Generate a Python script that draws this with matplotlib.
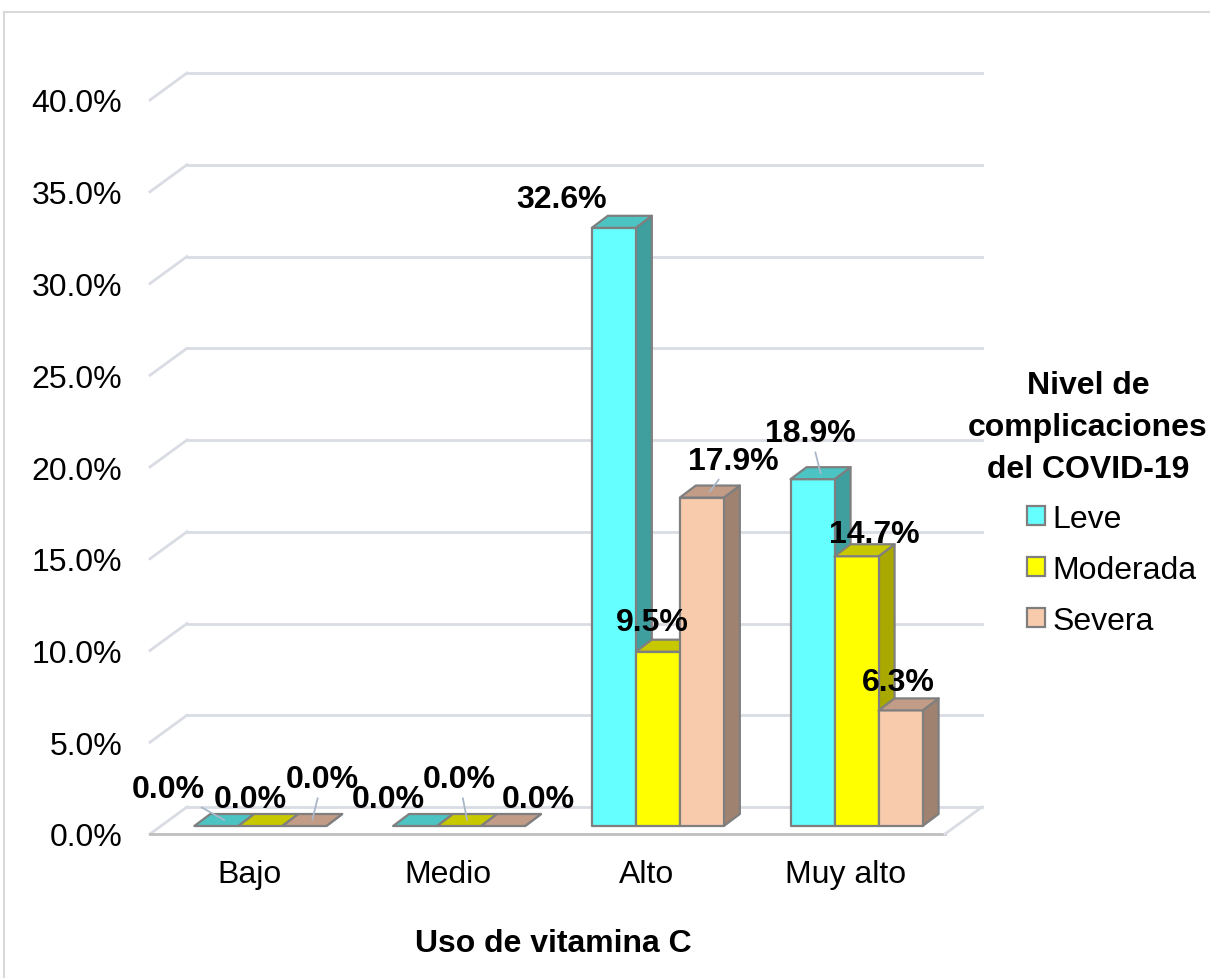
import matplotlib.pyplot as plt
from matplotlib.patches import Polygon, Patch
from matplotlib.lines import Line2D

plt.rcParams['font.family'] = ['Liberation Sans', 'DejaVu Sans']

categories = ["Bajo", "Medio", "Alto", "Muy alto"]
series = ["Leve", "Moderada", "Severa"]
leve = [0.0, 0.0, 32.6, 18.9]
moderada = [0.0, 0.0, 9.5, 14.7]
severa = [0.0, 0.0, 17.9, 6.3]
y_ticks = [0, 5, 10, 15, 20, 25, 30, 35, 40]

# colours: front, top, side
colors = {
    "Leve": ("#66FFFF", "#4CC4C4", "#3F9E9E"),
    "Moderada": ("#FFFF00", "#C8C800", "#A8A800"),
    "Severa": ("#F8CBAD", "#C29C86", "#A08270"),
}
EDGE = "#7F7F7F"
FS = 23

# fake 3d geometry (data units)
W, H = 1210, 979
PX_X = 198.75          # pixels per category
PX_Y = 18.35           # pixels per percent
FLOOR_DX, FLOOR_DY = 37 / PX_X, 27 / PX_Y
BAR_DX, BAR_DY = 16 / PX_X, 12 / PX_Y
BAR_W = 44 / PX_X
BAR_SHIFT_X, BAR_BASE = 0.296 * FLOOR_DX, 0.296 * FLOOR_DY
YTOP = 41.6

fig = plt.figure(figsize=(W / 100, H / 100), dpi=100)
ax = fig.add_axes([150 / W, (H - 835) / H, (4 * PX_X + 37) / W, YTOP * PX_Y / H])
ax.set_xlim(-0.5, 3.5 + FLOOR_DX)
ax.set_ylim(0, YTOP)
for s in ax.spines.values():
    s.set_visible(False)

# back wall gridlines + left wall slants
grid_c = "#D9DCE3"
for t in y_ticks:
    ax.plot([-0.5 + FLOOR_DX, 3.5 + FLOOR_DX], [t + FLOOR_DY] * 2, color=grid_c, lw=2, zorder=1, clip_on=False)
    ax.plot([-0.5, -0.5 + FLOOR_DX], [t, t + FLOOR_DY], color=grid_c, lw=2, zorder=1, clip_on=False)
# floor edges
ax.plot([-0.5, 3.5], [0, 0], color="#BFBFBF", lw=2, zorder=1, clip_on=False)
ax.plot([3.5, 3.5 + FLOOR_DX], [0, FLOOR_DY], color=grid_c, lw=2, zorder=1, clip_on=False)


def bar3d(x0, v, name):
    front, top, side = colors[name]
    b = BAR_BASE
    kw = dict(edgecolor=EDGE, lw=1.6, joinstyle="round", zorder=3, clip_on=False)
    ax.add_patch(Polygon([(x0 + BAR_W, b), (x0 + BAR_W + BAR_DX, b + BAR_DY),
                          (x0 + BAR_W + BAR_DX, b + v + BAR_DY), (x0 + BAR_W, b + v)],
                         facecolor=side, **kw))
    if v > 0:
        ax.add_patch(Polygon([(x0, b), (x0 + BAR_W, b), (x0 + BAR_W, b + v), (x0, b + v)],
                             facecolor=front, **kw))
    ax.add_patch(Polygon([(x0, b + v), (x0 + BAR_W, b + v), (x0 + BAR_W + BAR_DX, b + v + BAR_DY),
                          (x0 + BAR_DX, b + v + BAR_DY)], facecolor=top, **kw))


# label offsets in pixels (x, y up) and leader-line flags
offsets = [
    [(-56, 31), (-18, 21), (10, 41)],
    [(-35, 21), (-8, 41), (27, 21)],
    [(-60, 23), (-14, 24), (23, 31)],
    [(-10, 40), (10, 16), (-10, 22)],
]
leaders = [
    [True, False, True],
    [False, True, False],
    [False, False, True],
    [True, False, False],
]

data = [leve, moderada, severa]
for i, cat in enumerate(categories):
    for k, name in enumerate(series):
        v = data[k][i]
        x0 = i - 1.5 * BAR_W + k * BAR_W + BAR_SHIFT_X
        bar3d(x0, v, name)
        anchor = (x0 + BAR_W / 2 + BAR_DX / 2, BAR_BASE + v + BAR_DY / 2)
        ap = dict(arrowstyle="-", color="#A9B7C8", lw=1.3, shrinkA=1, shrinkB=0) if leaders[i][k] else None
        ax.annotate(f"{v:.1f}%", xy=anchor, xytext=offsets[i][k], textcoords="offset pixels",
                    ha="center", va="center", fontsize=FS, fontweight="bold", color="black",
                    arrowprops=ap, zorder=5, annotation_clip=False)

ax.set_yticks(y_ticks)
ax.set_yticklabels([f"{t:.1f}%" for t in y_ticks])
ax.set_xticks(range(len(categories)))
ax.set_xticklabels(categories)
ax.tick_params(axis="y", length=0, pad=20, labelsize=FS, colors="#000000")
ax.tick_params(axis="x", length=0, pad=18, labelsize=FS, colors="#000000")

fig.text(553 / W, 1 - 944 / H, "Uso de vitamina C", ha="center", va="center",
         fontsize=FS, fontweight="bold")

# legend
fig.text(1088 / W, 1 - 428 / H, "Nivel de\ncomplicaciones\ndel COVID-19", ha="center", va="center",
         fontsize=FS, fontweight="bold", linespacing=1.5)
handles = [Patch(facecolor=colors[n][0], edgecolor=EDGE, lw=1.6) for n in series]
leg = fig.legend(handles, series, loc="upper left", bbox_to_anchor=(1027 / W, 1 - 505 / H),
                 frameon=False, fontsize=FS, borderpad=0, borderaxespad=0,
                 handlelength=0.55, handleheight=0.55, handletextpad=0.25, labelspacing=0.65)

# outer chart frame
fig.add_artist(Line2D([4 / W, 4 / W], [0, 1 - 13 / H], color="#D9D9D9", lw=1.5))
fig.add_artist(Line2D([4 / W, 1], [1 - 13 / H, 1 - 13 / H], color="#D9D9D9", lw=1.5))

fig.savefig("out.png", dpi=100)
